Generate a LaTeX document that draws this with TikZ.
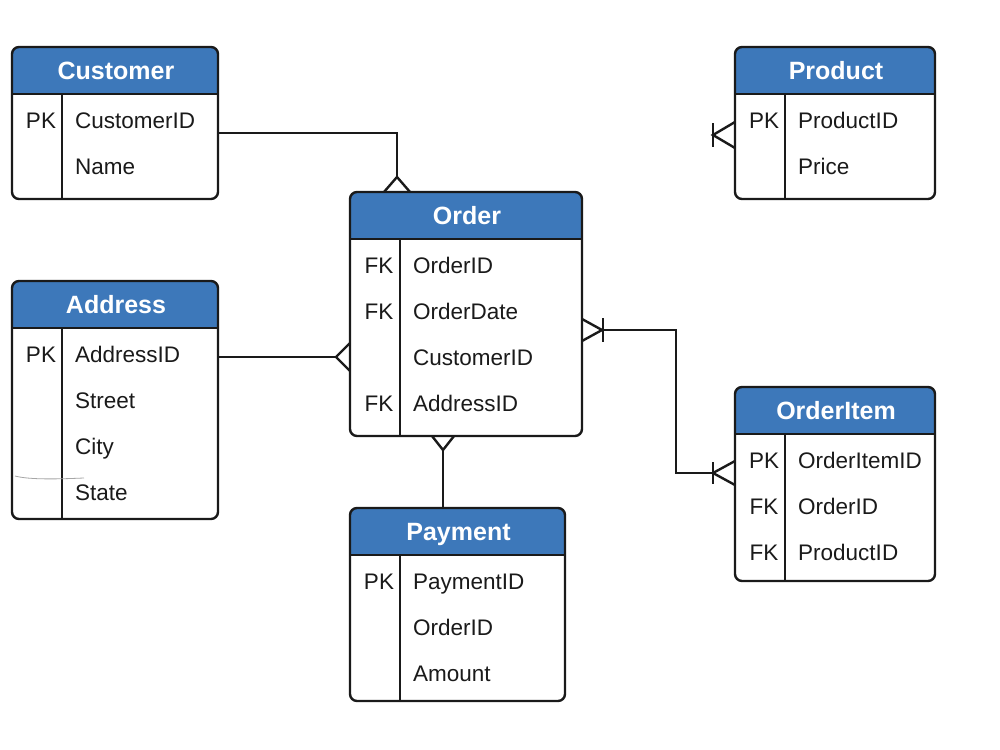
\documentclass[tikz,border=0pt]{standalone}
\usepackage{fontspec}
\setmainfont{Liberation Sans}
\usetikzlibrary{calc}
\definecolor{hdrblue}{HTML}{3D78BA}
\definecolor{inkline}{HTML}{1A1A1A}
\newcommand\erbox[6]{% #1 name, #2 x1, #3 y1 (top), #4 x2, #5 y2 (bottom), #6 title
  \begin{scope}
    \clip[rounded corners=7pt] (#2,#3) rectangle (#4,#5);
    \fill[hdrblue] (#2,#3) rectangle (#4,#3+47);
  \end{scope}
  \node[tbl, minimum width={(#4-#2)*1pt}, minimum height={(#5-#3)*1pt}] (#1) at (#2,#3) {};
  \draw[rule] (#1.north west) ++(0,47) -- ($(#1.north east)+(0,47)$);
  \draw[rule] ($(#1.north west)+(50,47)$) -- ($(#1.south west)+(50,0)$);
  \node[ttl] (#1-title) at ({(#2+#4)/2+1},#3+32.5) {#6};
}
\newcommand\erow[4]{% #1 table, #2 row index, #3 key, #4 field
  \node[keytxt] (#1-k#2) at ($(#1.north west)+(29,{81.5+46*#2})$) {#3};
  \node[fldtxt] (#1-f#2) at ($(#1.north west)+(63,{81.5+46*#2})$) {#4};
}
\begin{document}
\begin{tikzpicture}[x=1pt,y=-1pt,
  tbl/.style={draw=inkline, line width=2.4pt, rounded corners=7pt, anchor=north west, inner sep=0pt, outer sep=0pt},
  rule/.style={draw=inkline, line width=2.4pt},
  ttl/.style={anchor=base, inner sep=0pt, text=white, font=\fontsize{25}{29}\selectfont\bfseries},
  keytxt/.style={anchor=base, inner sep=0pt, text=inkline, font=\fontsize{22.5}{26}\selectfont},
  fldtxt/.style={anchor=base west, inner sep=0pt, text=inkline, font=\fontsize{22.5}{26}\selectfont},
  conn/.style={draw=inkline, line width=2.4pt}]
\useasboundingbox (0,0) rectangle (1000,749);
\fill[white] (0,0) rectangle (1000,749);

% tables
\erbox{customer}{12}{47}{218}{199}{Customer}
\erow{customer}{0}{PK}{CustomerID}
\erow{customer}{1}{}{Name}

\erbox{product}{735}{47}{935}{199}{Product}
\erow{product}{0}{PK}{ProductID}
\erow{product}{1}{}{Price}

\erbox{order}{350}{192}{582}{436}{Order}
\erow{order}{0}{FK}{OrderID}
\erow{order}{1}{FK}{OrderDate}
\erow{order}{2}{}{CustomerID}
\erow{order}{3}{FK}{AddressID}

\erbox{address}{12}{281}{218}{519}{Address}
\erow{address}{0}{PK}{AddressID}
\erow{address}{1}{}{Street}
\erow{address}{2}{}{City}
\erow{address}{3}{}{State}

\erbox{orderitem}{735}{387}{935}{581}{OrderItem}
\erow{orderitem}{0}{PK}{OrderItemID}
\erow{orderitem}{1}{FK}{OrderID}
\erow{orderitem}{2}{FK}{ProductID}

\erbox{payment}{350}{508}{565}{701}{Payment}
\erow{payment}{0}{PK}{PaymentID}
\erow{payment}{1}{}{OrderID}
\erow{payment}{2}{}{Amount}

% Customer -- Order
\draw[conn] ($(customer.north east)+(0,86)$) -| ($(order.north west)+(47,-14)$);
\draw[conn] ($(order.north west)+(34,0)$) -- ($(order.north west)+(47,-15)$) -- ($(order.north west)+(60,0)$);

% Address -- Order
\draw[conn] ($(address.north east)+(0,76)$) -- ($(order.north west)+(-14,165)$);
\draw[conn] ($(order.north west)+(0,151)$) -- ($(order.north west)+(-14,165)$) -- ($(order.north west)+(0,179)$);

% Order -- OrderItem
\draw[conn] ($(order.north east)+(20,138)$) -| ($(orderitem.north west)+(-59,86)$) -- ($(orderitem.north west)+(-22,86)$);
\draw[conn] ($(order.north east)+(0,127)$) -- ($(order.north east)+(20,138)$) -- ($(order.north east)+(0,149)$);
\draw[conn] ($(order.north east)+(21,126)$) -- ($(order.north east)+(21,150)$);
\draw[conn] ($(orderitem.north west)+(0,74)$) -- ($(orderitem.north west)+(-22,86)$) -- ($(orderitem.north west)+(0,98)$);
\draw[conn] ($(orderitem.north west)+(-22,75)$) -- ($(orderitem.north west)+(-22,97)$);

% Product crow's foot
\draw[conn] ($(product.north west)+(0,75)$) -- ($(product.north west)+(-22,88)$) -- ($(product.north west)+(0,101)$);
\draw[conn] ($(product.north west)+(-22,76)$) -- ($(product.north west)+(-22,100)$);

% Order -- Payment
\draw[conn] ($(order.south west)+(93,14)$) -- ($(payment.north west)+(93,0)$);
\draw[conn] ($(order.south west)+(82,0)$) -- ($(order.south west)+(93,14)$) -- ($(order.south west)+(104,0)$);

% stray thin stroke in Address
\draw[gray!70, line width=0.8pt] (15,476) .. controls (30,480) and (60,479) .. (84,478);
\end{tikzpicture}
\end{document}
